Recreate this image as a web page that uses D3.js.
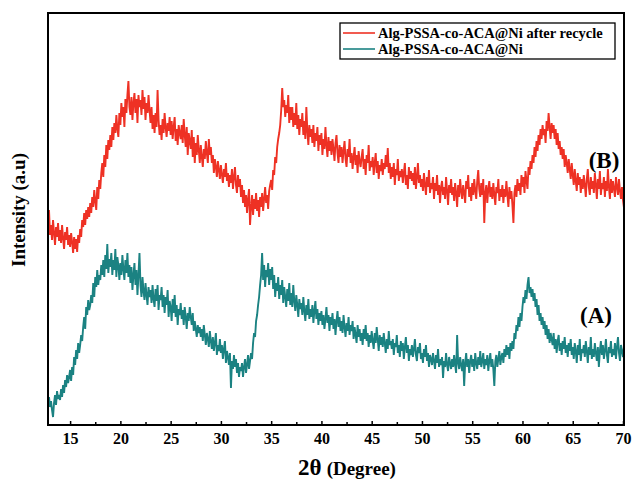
<!DOCTYPE html>
<html><head><meta charset="utf-8">
<script src="https://cdn.jsdelivr.net/npm/d3@7/dist/d3.min.js"></script>
<style>body{margin:0;background:#fff}svg{display:block}</style>
</head><body>
<script>
// 2θ sampling of both patterns
const thetaStart = 12.9, thetaStep = 0.1;
const xTicks = [15,20,25,30,35,40,45,50,55,60,65,70];
const seriesNames = ["Alg-PSSA-co-ACA@Ni after recycle","Alg-PSSA-co-ACA@Ni"];
const seriesColors = ["#ee3124","#1b8282"];
const curveLabels = ["(B)","(A)"];
// (B) after recycle, intensity (a.u.)
const intensityB = [215,190,
200,185,205,192,180,198,188,202,184,
195,182,200,187,176,193,185,198,180,190,
178,192,183,172,188,176,186,173,190,182,
196,188,205,198,212,200,215,206,218,208,
222,212,228,218,235,224,215,238,226,245,
236,252,262,248,270,258,280,266,285,275,
290,278,298,285,302,292,310,296,288,312,
300,322,308,318,298,326,312,330,344,318,
310,328,305,322,332,312,326,302,330,318,
325,310,335,316,328,305,322,312,330,315,
302,318,296,310,292,312,298,335,305,290,
300,285,306,292,312,298,288,302,294,308,
290,304,286,298,308,284,296,280,300,292,
286,300,282,306,290,278,298,270,292,284,
276,295,268,288,262,282,270,290,275,262,
280,268,258,276,266,284,272,262,286,270,
278,262,270,252,266,258,248,264,255,246,
260,250,242,256,248,262,244,252,238,250,
242,256,236,248,258,240,232,250,238,246,
228,240,222,235,218,230,212,226,236,200,
218,230,210,226,216,232,214,225,208,228,
218,232,214,226,238,222,230,216,234,240,
245,235,255,250,268,262,278,286,292,300,
315,337,318,325,308,320,312,330,302,318,
305,318,298,312,300,322,296,310,290,306,
298,312,290,304,286,318,294,280,300,288,
296,282,300,278,292,284,298,274,290,280,
292,270,286,276,298,280,268,288,274,284,
270,286,276,264,282,290,272,262,280,268,
278,262,274,284,266,258,276,268,286,262,
272,256,268,278,260,270,252,274,264,258,
268,276,256,266,250,270,262,280,254,264,
258,268,250,262,272,252,264,246,260,254,
266,250,262,256,270,258,277,252,262,246,
258,248,262,240,256,250,266,244,254,248,
256,242,252,262,240,250,236,258,246,254,
244,252,240,258,236,248,262,242,250,238,
246,234,252,240,230,248,238,255,232,242,
236,248,226,242,234,250,230,240,222,238,
244,230,238,226,248,234,220,240,232,246,
230,238,224,242,232,218,240,228,246,234,
226,240,232,222,244,236,250,228,238,224,
242,230,246,234,226,244,255,236,228,242,
230,246,202,232,240,222,236,244,228,238,
226,242,230,220,238,232,246,224,236,228,
240,222,236,228,244,230,218,238,226,234,
220,202,232,240,228,246,234,242,230,250,
238,248,232,254,244,236,258,250,264,256,
270,262,278,268,284,274,290,280,296,286,
300,290,296,282,304,294,312,298,286,302,
292,300,286,296,280,292,276,284,270,278,
266,276,258,270,262,252,266,256,246,262,
250,240,256,244,234,252,240,248,232,246,
236,250,240,228,246,256,238,230,248,236,
244,232,252,240,226,246,236,254,230,242,
236,248,228,244,234,256,238,226,246,232,
244,236,228,248,238,230,246,234,226,238,
225,217];
// (A) fresh catalyst, intensity (a.u.)
const intensityA = [28,18,
24,15,8,22,30,20,34,26,30,
25,36,28,40,32,45,38,50,42,48,
55,44,58,50,68,60,75,66,82,72,
80,90,84,98,108,96,118,110,125,115,
120,130,122,142,128,148,138,155,140,150,
145,160,150,165,148,170,156,181,152,166,
158,172,150,165,155,176,148,168,160,145,
162,150,170,156,145,165,152,172,148,160,
142,158,135,150,162,140,155,130,150,172,
140,128,148,134,125,142,130,120,138,128,
135,122,140,126,118,136,124,140,115,130,
125,138,118,130,112,128,120,135,108,124,
118,104,126,112,130,108,120,100,116,110,
122,106,115,100,118,108,96,112,104,118,
108,100,112,94,104,96,88,100,92,98,
88,96,84,100,90,80,92,86,78,94,
84,76,88,74,82,92,70,80,74,86,
72,80,66,76,84,62,74,68,60,72,
37,64,56,70,58,66,52,62,48,58,
54,62,48,58,66,52,60,70,56,64,
72,66,82,92,88,104,110,120,128,140,
150,172,145,160,138,155,148,162,140,156,
145,158,136,150,128,142,134,148,126,140,
130,145,122,138,128,118,136,124,142,120,
132,118,140,124,114,130,120,108,126,116,
122,110,128,114,104,120,110,126,106,116,
108,120,102,114,124,106,116,100,112,104,
114,100,110,96,106,118,102,110,94,108,
100,112,96,106,90,104,114,98,108,94,
104,92,110,98,88,102,94,108,90,100,
94,104,86,98,90,82,100,88,96,84,
92,80,96,86,100,84,92,78,90,82,
94,84,76,92,82,98,86,74,90,80,
88,78,92,82,72,86,76,94,80,84,
76,86,70,82,78,90,72,80,68,84,
74,82,66,78,88,72,80,64,76,70,
80,68,76,86,70,64,78,72,82,66,
72,62,76,68,80,64,72,58,70,66,
60,72,64,56,70,62,76,58,66,60,
68,47,64,58,72,60,54,68,62,56,
66,58,70,60,52,90,62,56,68,60,
54,66,39,62,72,58,66,52,64,70,
58,66,54,72,62,56,68,60,74,58,
64,72,56,66,60,70,54,64,72,58,
66,56,39,64,70,58,66,74,60,68,
72,62,76,68,80,70,78,66,82,74,
84,76,92,86,100,94,108,98,112,104,
118,128,122,135,126,140,148,132,138,128,
136,124,132,118,126,110,120,104,112,100,
108,96,104,90,100,86,96,82,92,86,
80,92,76,86,72,84,90,74,82,70,
84,76,88,72,80,68,82,74,86,70,
78,66,82,74,62,80,70,86,64,76,
72,80,68,84,74,62,78,70,88,66,
76,68,82,72,64,78,58,74,84,70,
80,66,74,86,70,62,78,72,84,68,
76,70,82,66,78,88,72,64,80,74,
68,78];

const W = 634, H = 482;
const m = {left:48, right:624, top:13, bottom:425};
const svg = d3.select("body").append("svg").attr("width",W).attr("height",H);
svg.append("rect").attr("width",W).attr("height",H).attr("fill","#fff");

const x = d3.scaleLinear().domain([12.8, 70.1]).range([m.left, m.right]);
const y = d3.scaleLinear().domain([0, 412]).range([m.bottom, m.top]);

svg.append("clipPath").attr("id","clip").append("rect")
  .attr("x",m.left).attr("y",m.top).attr("width",m.right-m.left).attr("height",m.bottom-m.top);

const toPts = arr => arr.map((v,i)=>({t: thetaStart + i*thetaStep, v}));
const line = d3.line().x(d=>x(d.t)).y(d=>y(d.v));
const g = svg.append("g").attr("clip-path","url(#clip)");
[intensityB, intensityA].forEach((arr,k)=>{
  g.append("path").datum(toPts(arr)).attr("d",line)
    .attr("fill","none").attr("stroke",seriesColors[k]).attr("stroke-width",1.9)
    .attr("stroke-linejoin","miter");
});

const font = "'Liberation Serif','Times New Roman',serif";
// minor ticks
const minor = d3.range(17.5, 70, 5);
svg.append("g").attr("transform",`translate(0,${m.bottom})`)
  .call(d3.axisBottom(x).tickValues(minor).tickSize(-3).tickFormat(""))
  .call(g=>g.select(".domain").remove())
  .call(g=>g.selectAll("line").attr("stroke","#000").attr("stroke-width",1.5));
// major ticks
const ax = svg.append("g").attr("transform",`translate(0,${m.bottom})`)
  .call(d3.axisBottom(x).tickValues(xTicks).tickSize(-4).tickPadding(8).tickFormat(d3.format("d")));
ax.select(".domain").remove();
ax.selectAll("line").attr("stroke","#000").attr("stroke-width",1.5);
ax.selectAll("text").attr("font-family",font).attr("font-weight","bold")
  .attr("font-size",16).attr("fill","#000").attr("dy","0.71em");

// frame
svg.append("rect").attr("x",m.left).attr("y",m.top)
  .attr("width",m.right-m.left).attr("height",m.bottom-m.top)
  .attr("fill","none").attr("stroke","#000").attr("stroke-width",2);

// axis titles
const xt = svg.append("text").attr("x",347).attr("y",475).attr("text-anchor","middle")
  .attr("font-family",font).attr("font-weight","bold").attr("fill","#000");
xt.append("tspan").attr("font-size",23).text("2θ");
xt.append("tspan").attr("font-size",19).attr("dx",5).text("(Degree)");

svg.append("text").attr("transform","translate(25,210) rotate(-90)")
  .attr("text-anchor","middle").attr("font-family",font).attr("font-weight","bold")
  .attr("font-size",19).attr("fill","#000").text("Intensity (a.u)");

// curve labels
svg.append("text").attr("x",604).attr("y",168).attr("text-anchor","middle")
  .attr("font-family",font).attr("font-weight","bold").attr("font-size",23).attr("fill","#000").text(curveLabels[0]);
svg.append("text").attr("x",596).attr("y",323).attr("text-anchor","middle")
  .attr("font-family",font).attr("font-weight","bold").attr("font-size",23).attr("fill","#000").text(curveLabels[1]);

// legend
const lg = svg.append("g");
lg.append("rect").attr("x",340).attr("y",23).attr("width",275).attr("height",36)
  .attr("fill","#fff").attr("stroke","#000").attr("stroke-width",1.3);
seriesNames.forEach((nm,k)=>{
  const yy = 33 + k*16;
  lg.append("line").attr("x1",343).attr("x2",375).attr("y1",yy).attr("y2",yy)
    .attr("stroke",seriesColors[k]).attr("stroke-width",1.6);
  lg.append("text").attr("x",378).attr("y",yy+5).attr("font-family",font)
    .attr("font-weight","bold").attr("font-size",14.5).attr("fill","#000").text(nm);
});
</script>
</body></html>
